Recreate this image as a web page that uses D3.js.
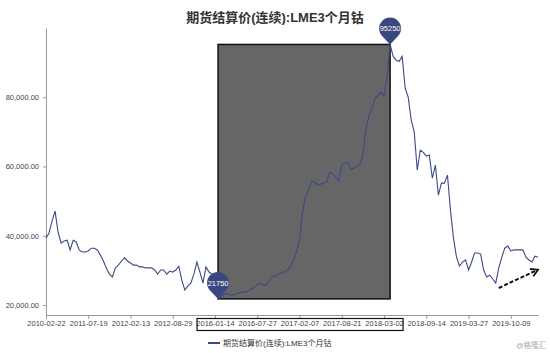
<!DOCTYPE html>
<html>
<head>
<meta charset="utf-8">
<script src="https://cdn.jsdelivr.net/npm/d3@7"></script>
<style>
  body { margin: 0; background: #fff; }
  text { font-family: "Liberation Sans", "Noto Sans CJK SC", sans-serif; }
</style>
</head>
<body>
<svg class="chart"></svg>
<script>

// settlement price, one value per trading step
var values = [
  39300, 40800, 44200, 47100, 41000, 37900, 38500, 38700, 35900, 38700,
  38200, 35900, 35300, 35300, 35600, 36400, 36400, 35900, 34400, 32700,
  30700, 28900, 28100, 30700, 31500, 32700, 33600, 32700, 32100, 31500,
  31500, 31000, 31000, 30700, 30700, 30700, 30100, 28900, 30100, 30100,
  28900, 29800, 29500, 30100, 31200, 27200, 24300, 25500, 26300, 28900,
  32400, 29500, 26300, 31000, 29500, 28900, 25800, 21750, 22300, 23200,
  23200, 22900, 22900, 23200, 23500, 23700, 23700, 24000, 24600, 25200,
  25800, 26300, 25800, 25800, 27200, 28100, 28400, 28900, 29200, 29500,
  30100, 31200, 33000, 35300, 38700, 46800, 51400, 53200, 55800, 55500,
  54600, 54900, 55200, 55500, 58400, 57800, 56900, 55800, 60400, 61000,
  61200, 59200, 59500, 60100, 60700, 63600, 70500, 74800, 76800, 79700,
  80600, 81400, 80300, 86300, 95250, 91800, 90700, 90400, 91800, 82600,
  80000, 73400, 69900, 58900, 64700, 64100, 63000, 63300, 56600, 60400,
  51700, 55200, 55200, 57500, 47400, 39300, 33800, 31200, 32400, 33000,
  30100, 32400, 35000, 35000, 34700, 30100, 28100, 28600, 27500, 26300,
  30700, 33800, 36400, 37000, 35600, 35900, 35900, 35900, 35900, 33800,
  33000, 32400, 34100, 33800
];

// x axis labels, one every 14 steps
var tickLabels = [
  "2010-02-22", "2011-07-19", "2012-02-13", "2012-08-29", "2016-01-14", "2016-07-27",
  "2017-02-07", "2017-08-21", "2018-03-02", "2018-09-14", "2019-03-27", "2019-10-09"
];
var tickEvery = 14;

var yTicks = [20000, 40000, 60000, 80000];

var title = "期货结算价(连续):LME3个月钴";
var seriesName = "期货结算价(连续):LME3个月钴";

var width = 550, height = 353;
var margin = { top: 28, right: 12, bottom: 38, left: 46 };
var lineColor = "#3c4a86";

var chart = d3.select(".chart")
    .attr("width", width)
    .attr("height", height);

var x = d3.scaleLinear()
    .domain([0, values.length - 1])
    .range([margin.left, width - margin.right]);

var y = d3.scaleLinear()
    .domain([17100, 100000])
    .range([height - margin.bottom, margin.top]);

var iMin = d3.minIndex(values);
var iMax = d3.maxIndex(values);

// title
chart.append("text")
    .attr("x", width / 2)
    .attr("y", 22)
    .attr("text-anchor", "middle")
    .attr("font-size", 13)
    .attr("font-weight", "bold")
    .attr("fill", "#333")
    .text(title);

// grey box from the low to the high
chart.append("rect")
    .attr("x", x(iMin))
    .attr("y", y(values[iMax]))
    .attr("width", x(iMax) - x(iMin))
    .attr("height", y(values[iMin]) - y(values[iMax]))
    .attr("fill", "#666")
    .attr("stroke", "#111")
    .attr("stroke-width", 1.5);

// axes
var xAxis = g => g
    .attr("transform", `translate(0,${height - margin.bottom})`)
    .call(d3.axisBottom(x)
        .tickValues(d3.range(tickLabels.length).map(i => i * tickEvery))
        .tickFormat(d => tickLabels[d / tickEvery])
        .tickSize(4)
        .tickSizeOuter(0))
    .call(g => g.selectAll("line, path").attr("stroke", "#999"))
    .call(g => g.selectAll("text").attr("fill", "#444").attr("font-size", 7.5).attr("dy", "0.5em"));

var yAxis = g => g
    .attr("transform", `translate(${margin.left},0)`)
    .call(d3.axisLeft(y)
        .tickValues(yTicks)
        .tickFormat(d3.format(",.2f"))
        .tickSize(3)
        .tickSizeOuter(0))
    .call(g => g.selectAll("line, path").attr("stroke", "#999"))
    .call(g => g.selectAll("text").attr("fill", "#444").attr("font-size", 7.5).attr("dx", "-1"));

chart.append("g").call(xAxis);
chart.append("g").call(yAxis);

// box round the highlighted date labels
var boxLeft = x(4 * tickEvery) - 18, boxRight = x(8 * tickEvery) + 19;
chart.append("rect")
    .attr("x", boxLeft)
    .attr("y", height - margin.bottom + 3.5)
    .attr("width", boxRight - boxLeft)
    .attr("height", 12)
    .attr("fill", "none")
    .attr("stroke", "#111")
    .attr("stroke-width", 1.2);

// price line
var line = d3.line()
    .x((d, i) => x(i))
    .y(d => y(d));

chart.append("path")
    .datum(values)
    .attr("fill", "none")
    .attr("stroke", lineColor)
    .attr("stroke-width", 1.1)
    .attr("d", line);

// pins on low and high
var pin = chart.selectAll(".pin")
    .data([iMin, iMax])
    .enter().append("g")
    .attr("class", "pin")
    .attr("transform", i => `translate(${x(i)},${y(values[i])})`);

pin.append("path")
    .attr("d", "M0,0 L-8,-8.4 A11,11 0 1,1 8,-8.4 Z")
    .attr("fill", "#3b4880");

pin.append("text")
    .attr("y", -16)
    .attr("dy", "0.35em")
    .attr("text-anchor", "middle")
    .attr("font-size", 7.5)
    .attr("fill", "#fff")
    .text(i => values[i]);

// dashed arrow at the end
chart.append("defs").append("marker")
    .attr("id", "head")
    .attr("viewBox", "0 0 10 10")
    .attr("refX", 8).attr("refY", 5)
    .attr("markerWidth", 5).attr("markerHeight", 5)
    .attr("orient", "auto")
    .append("path")
    .attr("d", "M1,1 L8,5 L1,9")
    .attr("fill", "none")
    .attr("stroke", "#111")
    .attr("stroke-width", 1.8);

chart.append("line")
    .attr("x1", x(150)).attr("y1", y(24900))
    .attr("x2", x(163)).attr("y2", y(30200))
    .attr("stroke", "#111")
    .attr("stroke-width", 2)
    .attr("stroke-dasharray", "4,2")
    .attr("marker-end", "url(#head)");

// legend
var legend = chart.append("g")
    .attr("transform", "translate(208,343)");

legend.append("line")
    .attr("x1", 0).attr("x2", 12)
    .attr("stroke", lineColor)
    .attr("stroke-width", 2);

legend.append("text")
    .attr("x", 15)
    .attr("dy", "0.35em")
    .attr("font-size", 8)
    .attr("fill", "#333")
    .text(seriesName);

// watermark
chart.append("text")
    .attr("x", 546)
    .attr("y", 348)
    .attr("text-anchor", "end")
    .attr("font-size", 7.5)
    .attr("fill", "#aaa")
    .text("@格隆汇");

</script>
</body>
</html>
